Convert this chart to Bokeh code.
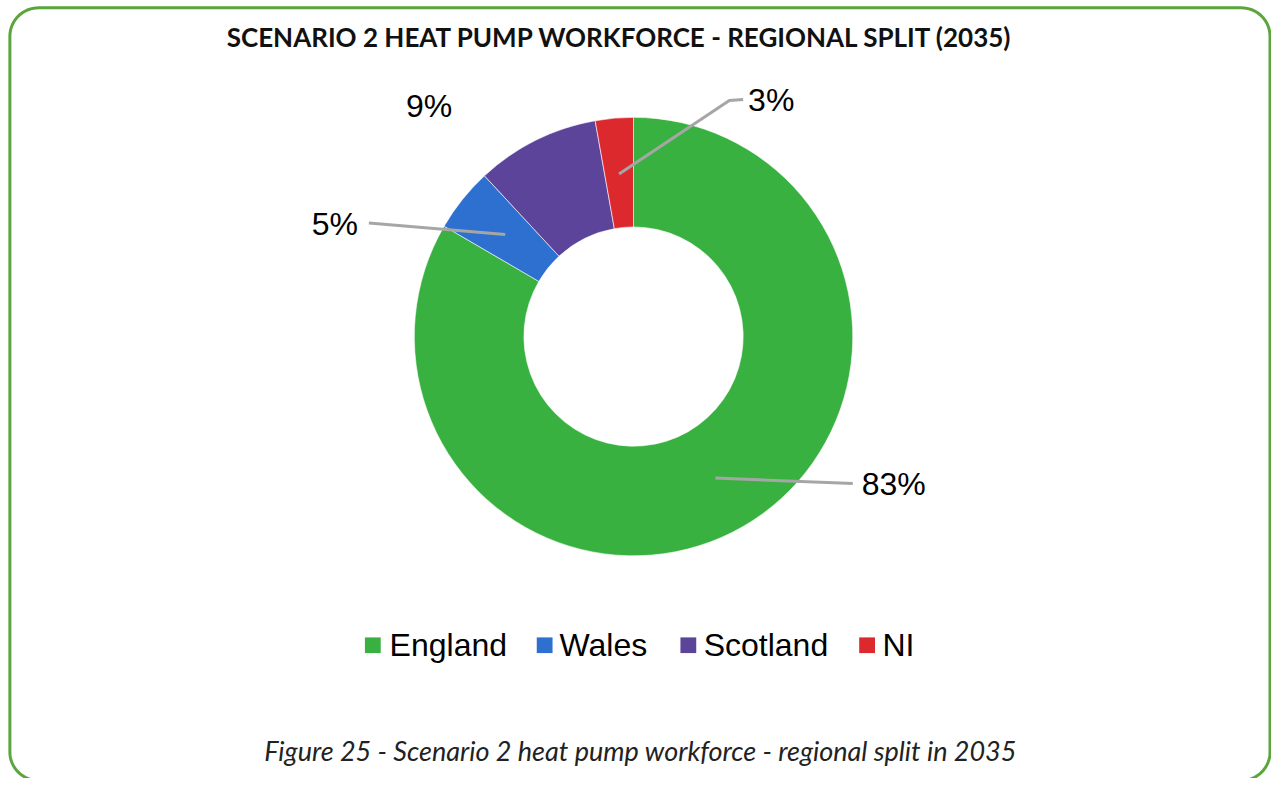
import numpy as np
from bokeh.plotting import figure
from bokeh.models import Range1d
from bokeh.core.properties import value
from bokeh.embed import file_html
from bokeh.resources import INLINE

# ---------------- data ----------------
title = "SCENARIO 2 HEAT PUMP WORKFORCE - REGIONAL SPLIT (2035)"
caption = "Figure 25 - Scenario 2 heat pump workforce - regional split in 2035"
regions = ["England", "Wales", "Scotland", "NI"]
shares = [83.4, 4.7, 9.1, 2.8]
colors = ["#39B140", "#2E70CF", "#5B4499", "#DC292E"]

# ---------------- layout ----------------
W, H = 1271, 778          # fits the window with the 8px page margin
RW, RH = 1287, 794        # design canvas (data units)


def Y(py):
    """design y (downwards) -> data y (upwards)"""
    return RH - py


p = figure(width=W, height=H, x_range=Range1d(0, RW), y_range=Range1d(0, RH),
           output_backend="svg", toolbar_location=None, min_border=0)
p.axis.visible = False
p.grid.visible = False
p.outline_line_color = None
p.background_fill_color = "white"
p.border_fill_color = "white"


# rounded green frame
def rounded_rect(x0, y0, x1, y1, r, n=24):
    xs, ys = [], []
    corners = [((x1 - r, y0 + r), -np.pi / 2, 0),
               ((x1 - r, y1 - r), 0, np.pi / 2),
               ((x0 + r, y1 - r), np.pi / 2, np.pi),
               ((x0 + r, y0 + r), np.pi, 1.5 * np.pi)]
    for (cx_, cy_), a0, a1 in corners:
        t = np.linspace(a0, a1, n)
        xs += list(cx_ + r * np.cos(t))
        ys += list(cy_ + r * np.sin(t))
    xs.append(xs[0]); ys.append(ys[0])
    return xs, [Y(v) for v in ys]


bx, by = rounded_rect(9.5, 7.5, 1285.5, 796, 29)
p.line(bx, by, line_color="#5AA53C", line_width=3)

# donut
cx, cy = 641, Y(343)
r_in, r_out = 111, 222
cum = np.concatenate([[0], np.cumsum(shares)]) / sum(shares)
starts = np.pi / 2 - cum[:-1] * 2 * np.pi
ends = np.pi / 2 - cum[1:] * 2 * np.pi
p.annular_wedge(x=[cx] * len(shares), y=[cy] * len(shares),
                inner_radius=r_in, outer_radius=r_out,
                start_angle=list(starts), end_angle=list(ends),
                direction="clock", fill_color=colors,
                line_color="white", line_width=0.6)

# leader lines + data labels
mids = (starts + ends) / 2
r_mid = (r_in + r_out) / 2
leader_pts = [[(863, 493)], [(373, 227)], None, [(738, 102), (752, 101)]]
label_pos = [(872, 493.5, "left"), (362, 228.5, "right"), (434, 108, "center"), (757, 101.5, "left")]
for i, s in enumerate(shares):
    ax = cx + r_mid * np.cos(mids[i])
    ay = cy + r_mid * np.sin(mids[i])
    if leader_pts[i]:
        xs = [ax] + [q[0] for q in leader_pts[i]]
        ys = [ay] + [Y(q[1]) for q in leader_pts[i]]
        p.line(xs, ys, line_color="#A6A6A6", line_width=3)
    lx, ly, al = label_pos[i]
    p.text(x=[lx], y=[Y(ly)], text=[f"{round(s)}%"], text_align=al,
           text_baseline="middle", text_font=value("Liberation Sans"),
           text_font_size="32px", text_color="black")

# legend
sq_x = [369, 543, 688.5, 869.5]
tx_x = [394, 566, 712, 893]
for i, name in enumerate(regions):
    p.rect(x=[sq_x[i] + 8], y=[Y(658)], width=16, height=16,
           fill_color=colors[i], line_color=None)
    p.text(x=[tx_x[i]], y=[Y(657.5)], text=[name], text_align="left",
           text_baseline="middle", text_font=value("Liberation Sans"),
           text_font_size="32px", text_color="black")

# title and caption
p.text(x=[627.5], y=[Y(37)], text=[title], text_align="center",
       text_baseline="middle", text_font=value("Lato"),
       text_font_style="bold", text_font_size="26px", text_color="#111111")
p.text(x=[648], y=[Y(765.5)], text=[caption], text_align="center",
       text_baseline="middle", text_font=value("Lato"),
       text_font_style="italic", text_font_size="27px", text_color="#222222")

open("out.html", "w").write(file_html(p, INLINE))
